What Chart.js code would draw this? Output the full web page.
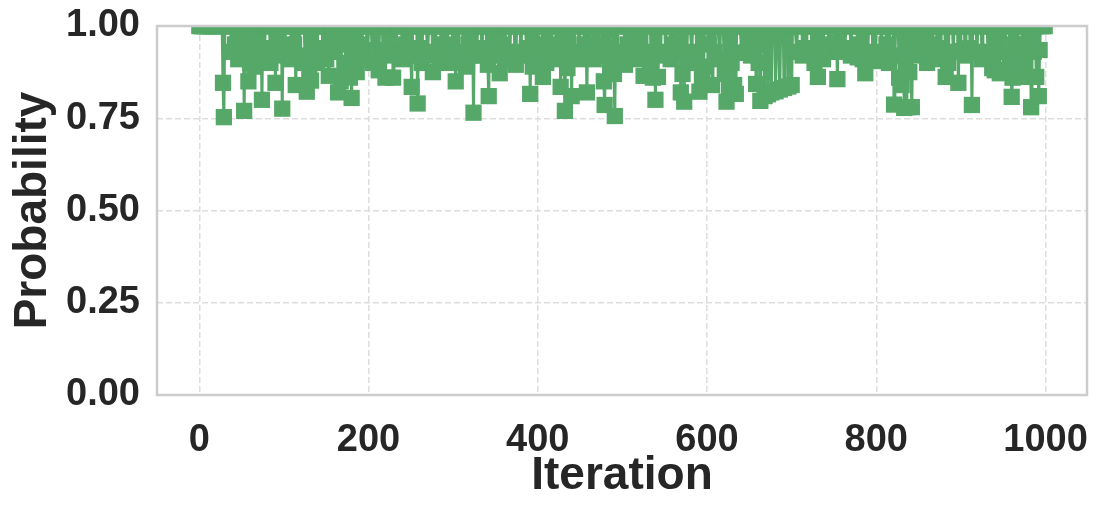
<!DOCTYPE html>
<html>
<head>
<meta charset="utf-8">
<script src="https://cdn.jsdelivr.net/npm/chart.js@4.4.1/dist/chart.umd.min.js"></script>
<style>
  html, body { margin: 0; padding: 0; background: #ffffff; }
  #chart { display: block; }
</style>
</head>
<body>
<canvas id="chart" width="1100" height="509"></canvas>
<script>
// Data: 1000 iterations, probability sits at 1.0
// except at the iterations listed below
const iterationCount = 1000;
const baseProbability = 1.0;
const dipIteration = [
  28, 29, 38, 42, 46, 49, 53, 55, 58, 60, 62, 65, 68, 71, 74, 77, 84, 88,
  90, 93, 98, 101, 109, 112, 114, 118, 125, 127, 130, 132, 135, 139, 146, 150,
  153, 157, 160, 164, 167, 170, 173, 178, 180, 183, 186, 189, 192, 199, 205, 209, 212,
  218, 220, 225, 229, 232, 240, 244, 248, 251, 258, 260, 263, 270, 276, 279,
  286, 290, 293, 300, 303, 306, 312, 315, 318, 321, 324, 328, 334, 341, 342,
  345, 347, 350, 355, 358, 361, 367, 373, 374, 380, 387, 391, 394, 397, 400,
  406, 410, 413, 416, 422, 427, 430, 432, 435, 440, 443, 449, 455, 458, 461,
  466, 469, 472, 478, 479, 482, 485, 490, 491, 494, 503, 506, 511, 514, 521, 525,
  528, 534, 536, 539, 542, 545, 551, 557, 560, 563, 569, 571, 573, 576, 582,
  588, 591, 594, 596, 602, 606, 609, 615, 621, 623, 626, 629, 632, 634, 641,
  647, 649, 652, 658, 661, 663, 666, 668, 672, 676, 681, 686, 691, 696, 700, 706,
  713, 717, 724, 727, 731, 734, 737, 744, 752, 754, 757, 763, 770, 778,
  781, 784, 787, 790, 796, 799, 806, 812, 815, 821, 822, 827, 830, 833, 836,
  839, 842, 845, 850, 853, 860, 863, 866, 872, 876, 882, 885, 891, 897,
  899, 905, 911, 913, 919, 925, 932, 937, 940, 943, 946, 949, 952,
  958, 960, 961, 964, 967, 973, 976, 979, 983, 986, 989, 992, 993
];
const dipProbability = [
  0.846, 0.753, 0.93, 0.95, 0.91, 0.94, 0.77, 0.93, 0.85, 0.90, 0.94, 0.89, 0.95, 0.92, 0.80, 0.93, 0.90, 0.94,
  0.846, 0.92, 0.776, 0.93, 0.91, 0.95, 0.84, 0.92, 0.90, 0.822, 0.88, 0.852, 0.94, 0.90, 0.94, 0.91,
  0.865, 0.95, 0.93, 0.82, 0.85, 0.95, 0.90, 0.86, 0.805, 0.92, 0.875, 0.95, 0.91, 0.93, 0.90, 0.935, 0.88,
  0.92, 0.86, 0.955, 0.86, 0.93, 0.91, 0.95, 0.92, 0.835, 0.79, 0.94, 0.90, 0.93, 0.875, 0.92,
  0.90, 0.95, 0.92, 0.90, 0.85, 0.91, 0.93, 0.89, 0.95, 0.92, 0.765, 0.94, 0.92, 0.895, 0.81,
  0.94, 0.957, 0.92, 0.872, 0.95, 0.91, 0.93, 0.93, 0.895, 0.92, 0.94, 0.816, 0.89, 0.95, 0.92,
  0.862, 0.90, 0.95, 0.92, 0.91, 0.835, 0.95, 0.77, 0.886, 0.81, 0.93, 0.91, 0.95, 0.82, 0.94,
  0.91, 0.95, 0.92, 0.85, 0.786, 0.94, 0.91, 0.87, 0.756, 0.93, 0.895, 0.95, 0.957, 0.92, 0.91, 0.865,
  0.93, 0.90, 0.86, 0.80, 0.862, 0.92, 0.93, 0.91, 0.95, 0.93, 0.82, 0.87, 0.795, 0.91, 0.93,
  0.90, 0.822, 0.86, 0.89, 0.95, 0.84, 0.93, 0.91, 0.87, 0.795, 0.83, 0.90, 0.84, 0.816, 0.927,
  0.93, 0.957, 0.92, 0.843, 0.90, 0.797, 0.95, 0.81, 0.815, 0.82, 0.823, 0.828, 0.832, 0.836, 0.84, 0.93,
  0.92, 0.94, 0.93, 0.90, 0.862, 0.95, 0.91, 0.93, 0.954, 0.856, 0.93, 0.94, 0.92, 0.915,
  0.95, 0.91, 0.872, 0.93, 0.92, 0.905, 0.93, 0.95, 0.90, 0.787, 0.92, 0.86, 0.84, 0.778, 0.78,
  0.875, 0.78, 0.93, 0.957, 0.92, 0.90, 0.95, 0.92, 0.94, 0.91, 0.862, 0.90, 0.93, 0.846,
  0.932, 0.92, 0.94, 0.786, 0.93, 0.91, 0.93, 0.886, 0.88, 0.95, 0.872, 0.93, 0.88,
  0.90, 0.808, 0.86, 0.95, 0.92, 0.90, 0.862, 0.95, 0.78, 0.93, 0.862, 0.81, 0.935
];
const xTicks = [0, 200, 400, 600, 800, 1000];
const yTicks = [0, 0.25, 0.5, 0.75, 1.0];

const green = '#55a868';
const textColor = '#262626';

let dipMap = new Map();
dipIteration.forEach((it, i) => dipMap.set(it, dipProbability[i]));
let points = [];
for (let i = 0; i < iterationCount; i++) {
    points.push({ x: i, y: dipMap.has(i) ? dipMap.get(i) : baseProbability });
}

// light grey frame on all four sides, drawn over the markers
const frame = {
    id: 'frame',
    afterDatasetsDraw(chart) {
        const { ctx, chartArea: a } = chart;
        ctx.save();
        ctx.strokeStyle = '#cccccc';
        ctx.lineWidth = 2.5;
        ctx.strokeRect(a.left, a.top, a.right - a.left, a.bottom - a.top);
        ctx.restore();
    }
};

let tickFont = { family: '"Liberation Sans", Arial, sans-serif', size: 38, weight: 'bold' };
let titleFont = { family: '"Liberation Sans", Arial, sans-serif', size: 46, weight: 'bold' };
let gridOpts = { color: '#dddddd', lineWidth: 1.5, drawTicks: false };
let borderOpts = { display: false, dash: [6, 3] };

// keep the plot box where the reference has it
function noLabelPadding(s) {
    s.paddingTop = 0; s.paddingBottom = 0; s.paddingLeft = 0; s.paddingRight = 0;
}

new Chart(document.getElementById('chart').getContext('2d'), {
    type: 'line',
    data: {
        datasets: [{
            data: points,
            borderColor: green,
            backgroundColor: green,
            borderWidth: 3,
            pointStyle: 'rect',
            pointRadius: 11.5,
            pointBorderWidth: 0,
            pointBackgroundColor: green,
            tension: 0,
            clip: 0
        }]
    },
    options: {
        responsive: false,
        animation: false,
        devicePixelRatio: 1,
        layout: { padding: { left: 0, top: 26, right: 13, bottom: 0 } },
        plugins: { legend: { display: false }, tooltip: { enabled: false } },
        scales: {
            x: {
                type: 'linear',
                min: -50,
                max: 1049,
                afterBuildTicks: s => { s.ticks = xTicks.map(v => ({ value: v })); },
                afterFit: s => { s.height = 114; noLabelPadding(s); },
                ticks: { font: tickFont, color: textColor, padding: 23, maxRotation: 0, callback: v => String(v) },
                grid: gridOpts,
                border: borderOpts,
                title: { display: true, text: 'Iteration', font: titleFont, color: textColor, padding: { top: 0, bottom: 5 } }
            },
            y: {
                min: 0,
                max: 1,
                afterBuildTicks: s => { s.ticks = yTicks.map(v => ({ value: v })); },
                afterFit: s => { s.width = 157; noLabelPadding(s); },
                ticks: { font: tickFont, color: textColor, padding: 17, callback: v => v.toFixed(2) },
                grid: gridOpts,
                border: borderOpts,
                title: { display: true, text: 'Probability', font: titleFont, color: textColor, padding: { top: 6, bottom: 0 } }
            }
        }
    },
    plugins: [frame]
});
</script>
</body>
</html>
